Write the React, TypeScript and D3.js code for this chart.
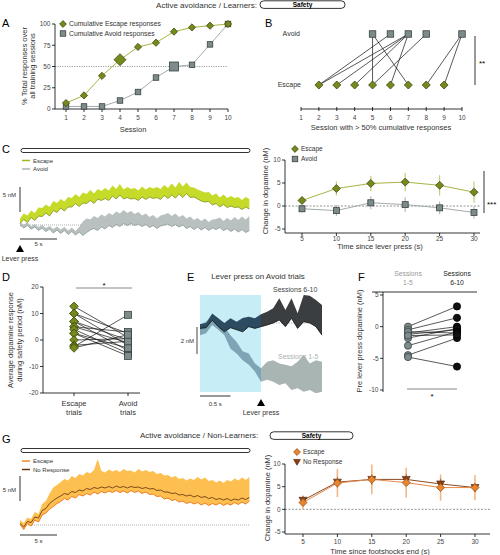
import React from 'react';
import * as d3 from 'd3';

const FONT = 'Liberation Sans, Arial, Helvetica, sans-serif';

// ---------- Panel A ----------
const sessions = [1, 2, 3, 4, 5, 6, 7, 8, 9, 10];
const cumEscape = [7, 16, 39, 58, 73, 78, 91, 96, 98, 100];
const cumAvoid = [3, 3, 3, 10, 20, 37, 50, 52, 76, 100];
const aYTicks = [0, 25, 50, 75, 100];
const escapeCrossSession = 4;
const avoidCrossSession = 7;

// ---------- Panel B ----------
const bEscapeSessions = [2, 3, 4, 5, 6, 7, 8, 9];
const bAvoidSessions = [5, 6, 7, 8, 10];
const bPairs = [[2, 6], [2, 7], [3, 7], [4, 7], [5, 5], [5, 8], [6, 7], [7, 5], [8, 10], [9, 10]];

// ---------- Panel C traces (0.5 s samples, nM) ----------
const cEscMeanTr = [0.3,1.1,0.5,1.5,0.9,1.8,1.7,2.4,1.8,2.9, 2.5,3.4,2.8,3.6,3.6,4.3,3.7,4.4,4.3,4.9, 4.3,5.2,4.9,5.3,4.9,5.8,5.2,6.0,5.2,5.5, 5.2,5.3,4.9,5.6,5.1,5.6,5.3,5.5,5.1,5.9, 5.3,6.0,5.4,6.2,5.5,6.3,5.5,5.6,5.2,4.8, 4.6,4.7,4.0,4.3,3.6,4.1,3.5,3.8,3.5,3.6, 3.1,3.6,3.2];
const cEscTopTr = [1.3,2.3,1.9,2.9,2.4,3.5,3.4,4.1,3.6,4.8, 4.4,5.2,4.7,5.6,5.4,6.2,5.6,6.5,6.2,7.0, 6.3,7.2,6.8,7.4,6.9,7.9,7.2,8.2,7.1,7.6, 7.2,7.4,6.9,7.7,7.1,7.6,7.3,7.6,7.2,8.0, 7.4,8.3,7.5,8.6,7.7,8.5,7.6,7.5,7.1,6.8, 6.5,6.6,5.9,6.3,5.5,6.1,5.4,5.8,5.4,5.6, 5.0,5.6,5.2];
const cAvMeanTr = [0.0,-0.6,-0.1,-0.8,-0.4,-1.1,-0.6,-1.3,-0.8,-1.6, -1.0,-1.7,-1.1,-1.9,-1.3,-2.0,-1.4,-2.1,-1.5,-1.0, -0.7,-1.1,-0.4,-0.8,-0.1,-0.5,0.1,-0.3,0.3,-0.1, 0.3,-0.1,0.2,-0.3,0.1,-0.5,-0.1,-0.7,-0.2,0.0, 0.2,-0.3,0.1,-0.4,0.0,-0.7,-0.3,-0.9,-0.4,-1.0, -0.5,-1.1,-0.6,-0.9,-0.5,-1.1,-0.7,-1.3,-0.8,-1.4, -0.9,-1.5,-1.1];
const cAvTopTr = [0.6,0.1,0.5,-0.2,0.2,-0.4,0.0,-0.6,-0.2,-0.8, -0.3,-0.9,-0.4,-1.1,-0.5,-1.2,-0.4,0.7,1.3,1.1, 1.8,1.4,2.1,1.7,2.4,2.0,2.7,2.3,3.0,2.4, 2.8,2.2,2.6,1.9,2.3,1.6,2.0,1.3,1.9,2.1, 2.4,1.8,2.3,1.6,2.0,1.3,1.7,1.0,1.4,0.8, 1.3,0.6,1.1,1.2,1.5,0.8,1.4,0.9,1.6,1.0, 1.7,1.1,1.8];

// ---------- Panel C right ----------
const cTimes = [5, 10, 15, 20, 25, 30];
const cEscMean = [1.2, 3.8, 4.9, 5.2, 4.5, 3.0];
const cEscErr = [0.5, 1.5, 1.7, 2.0, 2.2, 2.3];
const cAvMean = [-0.6, -1.0, 0.7, 0.3, -0.4, -1.4];
const cAvErr = [0.8, 1.2, 1.4, 1.6, 1.4, 1.3];
const cYTicks = [-5, 0, 5, 10];

// ---------- Panel D ----------
const dCategories = ['Escape', 'Avoid'];
const dPairs = [[12.7, 1], [10, 2.5], [10, -2], [7, 0], [7, -4], [5, 3], [5, -1], [4, -5], [2.5, -3], [2.5, -6], [0, 0.5], [-2, -0.5], [-2.5, 9.5], [-3, 2]];
const dYTicks = [-20, -10, 0, 10, 20];

// ---------- Panel E ----------
const eT = [-1,-0.9,-0.8,-0.7,-0.6,-0.5,-0.4,-0.3,-0.2,-0.1,0,0.1,0.2,0.3,0.4,0.5,0.6,0.7,0.8,0.9,1];
const e610Lo = [-0.4,-0.35,0.2,-0.27,-0.65,-0.35,-0.5,-0.65,-0.27,-0.4,-0.27,-0.15,0,0.22,-0.27,0.35,-0.4,0.1,0,-0.27,-0.9];
const e610Hi = [-0.1,0,0.7,0.35,0,0.35,0.1,0.37,0.47,0.35,0.64,0.84,1.09,1.83,0.96,1.83,0.72,2.07,2.02,1.7,1.33];
const e15Lo = [-0.9,-0.76,-0.15,-0.5,-0.9,-1.9,-2.25,-2.75,-3.1,-3.6,-4.35,-4.2,-4.35,-4.6,-4.47,-4.96,-4.84,-5.1,-4.96,-5.2,-5.1];
const e15Hi = [-0.1,0.1,0.47,0.1,-0.27,-0.9,-1.4,-2.1,-2.25,-3.0,-3.35,-2.87,-2.75,-3.0,-3.1,-3.2,-2.87,-2.37,-3.0,-2.75,-2.87];

// ---------- Panel F ----------
const fCategories = ['1-5', '6-10'];
const fPairs = [[0, 3.2], [-0.5, 1.4], [-1, 0], [-1.2, -0.5], [-1.8, -0.3], [-3, -0.8], [-4.5, -1.8], [-4.8, -6.3], [-0.8, -1.0], [-1.4, -1.3]];
const fYTicks = [-10, -5, 0, 5];

// ---------- Panel G traces ----------
const gTopTr = [1.0,0.4,1.5,1.2,2.6,2.2,4.2,4.8,6.3,7.5, 8.0,8.6,9.2,8.9,9.8,9.4,10.2,9.9,10.6,10.3, 11.0,13.2,10.8,10.5,11.1,10.7,11.0,10.6,11.2,10.8, 10.9,10.5,11.2,10.7,11.0,10.6,10.8,10.2,10.4,9.9, 10.0,9.5,9.8,9.2,9.4,8.9,9.3,9.0,9.6,9.1, 9.5,8.8,9.0,8.5,8.9,8.4,9.0,8.7,9.3,8.9, 9.5,9.0,9.6];
const gNrTr = [0.3,-0.4,0.7,0.5,1.6,1.4,2.9,3.3,4.3,4.9, 5.4,5.8,6.3,6.1,6.7,6.5,7.0,6.8,7.3,7.1, 7.5,7.3,7.6,7.4,7.7,7.4,7.8,7.5,7.7,7.4, 7.7,7.5,7.6,7.3,7.5,7.2,7.3,6.9,7.0,6.6, 6.6,6.3,6.4,6.0,6.1,5.8,6.0,5.6,5.9,5.5, 5.7,5.3,5.5,5.1,5.3,5.0,5.3,4.9,5.2,5.0, 5.4,5.1,5.5];
const gEscTr = [0.2,-0.9,0.3,-0.2,1.0,0.6,2.0,2.4,3.2,3.7, 4.3,4.7,5.3,5.0,5.7,5.4,6.1,5.8,6.3,6.0, 6.6,6.2,6.7,6.4,6.8,6.5,6.9,6.5,6.8,6.4, 6.9,6.5,6.8,6.3,6.6,6.1,6.2,5.7,5.8,5.2, 5.4,4.9,5.1,4.6,4.8,4.3,4.6,4.2,4.5,4.0, 4.4,3.9,4.3,4.0,4.4,3.9,4.3,4.0,4.5,4.1, 4.6,4.2,4.8];

// ---------- Panel G right ----------
const gTimes = [5, 10, 15, 20, 25, 30];
const gEscMean = [1.5, 5.8, 6.6, 5.9, 4.8, 4.8];
const gEscErr = [1.5, 3.1, 3.3, 3.3, 2.9, 2.8];
const gNrMean = [2.0, 6.0, 6.6, 6.6, 5.6, 4.8];
const gNrErr = [1.0, 1.2, 1.2, 1.2, 1.2, 1.0];

const OLIVE = '#748a1c';
const OLIVE_S = '#3e4a0e';
const OLIVE_L = '#aab440';
const GRAY = '#7d8b8b';
const GRAY_S = '#3a4242';
const GRAY_L = '#a3abab';
const TXT = '#333';

const diamond = (r: number) => `M0,${-r}L${r},0L0,${r}L${-r},0Z`;
const triDown = (r: number) => `M${-r},${-r * 0.75}L${r},${-r * 0.75}L0,${r * 0.95}Z`;

const Diamond = ({ x, y, r, fill = OLIVE, stroke = OLIVE_S }: any) => (
  <path d={diamond(r)} transform={`translate(${x},${y})`} fill={fill} stroke={stroke} strokeWidth={0.8} />
);
const Square = ({ x, y, s, fill = GRAY, stroke = GRAY_S }: any) => (
  <rect x={x - s / 2} y={y - s / 2} width={s} height={s} fill={fill} stroke={stroke} strokeWidth={0.8} />
);

const YAxis = ({ x, y0, y1, ticks, scale, fs = 6.5 }: any) => (
  <g>
    <line x1={x} x2={x} y1={y0} y2={y1} stroke="#000" strokeWidth={0.8} />
    {ticks.map((t: number) => (
      <g key={t}>
        <line x1={x - 3} x2={x} y1={scale(t)} y2={scale(t)} stroke="#000" strokeWidth={0.8} />
        <text x={x - 4.5} y={scale(t)} dy="0.35em" textAnchor="end" fontSize={fs} fill="#444">{t}</text>
      </g>
    ))}
  </g>
);

const XAxis = ({ y, x0, x1, ticks, scale, fs = 6.5, labelDy = 9 }: any) => (
  <g>
    <line x1={x0} x2={x1} y1={y} y2={y} stroke="#000" strokeWidth={0.8} />
    {ticks.map((t: number) => (
      <g key={t}>
        <line x1={scale(t)} x2={scale(t)} y1={y} y2={y + 3} stroke="#000" strokeWidth={0.8} />
        <text x={scale(t)} y={y + labelDy} dy="0.35em" textAnchor="middle" fontSize={fs} fill="#444">{t}</text>
      </g>
    ))}
  </g>
);

const RotLabel = ({ x, y, children, fs = 7.5 }: any) => (
  <text transform={`translate(${x},${y}) rotate(-90)`} textAnchor="middle" fontSize={fs} fill={TXT}>{children}</text>
);

export default function App() {
  // ---------- A ----------
  const xA = d3.scaleLinear().domain([1, 10]).range([66, 228]);
  const yA = d3.scaleLinear().domain([0, 100]).range([109, 24]);
  const lineA = d3.line<number>().x((_, i) => xA(sessions[i])).y(d => yA(d));

  // ---------- B ----------
  const xB = d3.scaleLinear().domain([1, 10]).range([301, 462]);
  const yBAvoid = 34, yBEscape = 85;

  // ---------- C traces ----------
  const trT = cEscMeanTr.map((_, i) => i * 0.5);
  const xTr = d3.scaleLinear().domain([0, 31]).range([20, 249.4]);
  const yCTr = d3.scaleLinear().domain([0, 1]).range([225, 220]);
  const areaC = (lo: number[], hi: number[]) =>
    d3.area<number>().x((_, i) => xTr(trT[i])).y0((_, i) => yCTr(lo[i])).y1((_, i) => yCTr(hi[i]))(lo) || '';
  const lineC = (v: number[]) => d3.line<number>().x((_, i) => xTr(trT[i])).y(d => yCTr(d))(v) || '';

  // ---------- C right ----------
  const xC = d3.scaleLinear().domain([5, 30]).range([302, 474]);
  const yC = d3.scaleLinear().domain([-5, 10]).range([229, 160]);
  const lineCR = (v: number[]) => d3.line<number>().x((_, i) => xC(cTimes[i])).y(d => yC(d))(v) || '';

  // ---------- D ----------
  const xD = d3.scalePoint<string>().domain(dCategories).range([74, 128]);
  const yD = d3.scaleLinear().domain([-20, 20]).range([393, 287]);

  // ---------- E ----------
  const xE = d3.scaleLinear().domain([-1, 1]).range([200, 322]);
  const yE = d3.scaleLinear().domain([0, 1]).range([323, 309.5]);
  const areaE = (lo: number[], hi: number[]) =>
    d3.area<number>().x((_, i) => xE(eT[i])).y0((_, i) => yE(lo[i])).y1((_, i) => yE(hi[i]))(lo) || '';
  const lineE = (v: number[]) => d3.line<number>().x((_, i) => xE(eT[i])).y(d => yE(d))(v) || '';

  // ---------- F ----------
  const xF = d3.scalePoint<string>().domain(fCategories).range([408, 457]);
  const yF = d3.scaleLinear().domain([-10, 5]).range([390, 295]);

  // ---------- G traces ----------
  const yGTr = d3.scaleLinear().domain([0, 1]).range([525, 520]);
  const areaG = (lo: number[], hi: number[]) =>
    d3.area<number>().x((_, i) => xTr(trT[i])).y0((_, i) => yGTr(lo[i])).y1((_, i) => yGTr(hi[i]))(lo) || '';
  const lineG = (v: number[]) => d3.line<number>().x((_, i) => xTr(trT[i])).y(d => yGTr(d))(v) || '';

  // ---------- G right ----------
  const xG = d3.scaleLinear().domain([5, 30]).range([303, 475]);
  const yG = d3.scaleLinear().domain([-5, 10]).range([532, 464]);
  const lineGR = (v: number[]) => d3.line<number>().x((_, i) => xG(gTimes[i])).y(d => yG(d))(v) || '';

  const letter = (t: string, x: number, y: number) => (
    <text x={x} y={y} fontSize={11} fill="#000">{t}</text>
  );

  return (
    <svg width={500} height={555} style={{ position: 'absolute', left: 0, top: 0, background: '#fff' }} fontFamily={FONT}>
      <rect x={0} y={0} width={500} height={555} fill="#fff" />
      <defs>
        <clipPath id="eIn"><rect x={0} y={0} width={xE(0)} height={555} /></clipPath>
        <clipPath id="eOut"><rect x={xE(0)} y={0} width={200} height={555} /></clipPath>
      </defs>

      {/* Header top */}
      <text x={257} y={8} textAnchor="end" fontSize={8} fill={TXT}>Active avoidance / Learners:</text>
      <rect x={260} y={0.8} width={85} height={7.6} rx={3.8} fill="#fff" stroke="#000" strokeWidth={0.8} />
      <text x={302.5} y={7.3} textAnchor="middle" fontSize={6.5} fontWeight="bold">Safety</text>

      {/* ---------- Panel A ---------- */}
      {letter('A', 2, 27)}
      <line x1={55} x2={228} y1={yA(50)} y2={yA(50)} stroke="#777" strokeWidth={0.7} strokeDasharray="1.2,1.2" />
      <YAxis x={55} y0={24} y1={109} ticks={aYTicks} scale={yA} />
      <XAxis y={109} x0={55} x1={228} ticks={sessions} scale={xA} />
      <text x={133} y={132} textAnchor="middle" fontSize={7.5} fill={TXT}>Session</text>
      <RotLabel x={27} y={66}>% Total responses over</RotLabel>
      <RotLabel x={35} y={66}>all training sessions</RotLabel>
      <path d={lineA(cumAvoid) || ''} fill="none" stroke={GRAY_L} strokeWidth={1} />
      <path d={lineA(cumEscape) || ''} fill="none" stroke={OLIVE_L} strokeWidth={1} />
      {cumAvoid.map((v, i) => (
        <Square key={'a' + i} x={xA(sessions[i])} y={yA(v)} s={sessions[i] === avoidCrossSession ? 9 : 5.5} />
      ))}
      {cumEscape.map((v, i) => (
        <Diamond key={'e' + i} x={xA(sessions[i])} y={yA(v)} r={sessions[i] === escapeCrossSession ? 6 : 3.6} />
      ))}
      <Diamond x={63} y={24} r={3.4} />
      <text x={69} y={24} dy="0.35em" fontSize={6.8} fill={TXT}>Cumulative Escape responses</text>
      <Square x={63} y={33.5} s={5.5} />
      <text x={69} y={33.5} dy="0.35em" fontSize={6.8} fill={TXT}>Cumulative Avoid responses</text>

      {/* ---------- Panel B ---------- */}
      {letter('B', 265, 27)}
      <text x={300} y={34} dy="0.35em" textAnchor="end" fontSize={7} fill={TXT}>Avoid</text>
      <text x={301} y={85} dy="0.35em" textAnchor="end" fontSize={7} fill={TXT}>Escape</text>
      {bPairs.map(([e, a], i) => (
        <line key={i} x1={xB(e)} y1={yBEscape} x2={xB(a)} y2={yBAvoid} stroke="#111" strokeWidth={0.7} />
      ))}
      {bAvoidSessions.map(s => <Square key={s} x={xB(s)} y={yBAvoid} s={6.5} />)}
      {bEscapeSessions.map(s => <Diamond key={s} x={xB(s)} y={yBEscape} r={4} />)}
      <line x1={301} x2={462} y1={109} y2={109} stroke="#000" strokeWidth={0.8} />
      {sessions.map(s => (
        <g key={s}>
          <line x1={xB(s)} x2={xB(s)} y1={107} y2={111} stroke="#000" strokeWidth={0.8} />
          <text x={xB(s)} y={118} dy="0.35em" textAnchor="middle" fontSize={6.5} fill="#444">{s}</text>
        </g>
      ))}
      <text x={381} y={130} textAnchor="middle" fontSize={7.5} fill={TXT}>Session with &gt; 50% cumulative responses</text>
      <line x1={475} x2={475} y1={36} y2={85} stroke="#000" strokeWidth={0.8} />
      <text x={479} y={66} fontSize={8} fill="#000">**</text>

      {/* ---------- Panel C left ---------- */}
      {letter('C', 2, 153)}
      <rect x={21} y={148.5} width={229} height={4} rx={2} fill="#fff" stroke="#000" strokeWidth={0.8} />
      <line x1={22} x2={30} y1={160.5} y2={160.5} stroke="#a4b51e" strokeWidth={1.5} />
      <text x={33} y={160.5} dy="0.35em" fontSize={6} fill={TXT}>Escape</text>
      <line x1={22} x2={30} y1={169} y2={169} stroke="#a8b2b2" strokeWidth={1.5} />
      <text x={33} y={169} dy="0.35em" fontSize={6} fill={TXT}>Avoid</text>
      <line x1={20} x2={20} y1={yCTr(7.6)} y2={yCTr(2.6)} stroke="#333" strokeWidth={1} />
      <text x={16} y={195} dy="0.35em" textAnchor="end" fontSize={6} fill={TXT}>5 nM</text>
      <line x1={20} x2={250} y1={yCTr(0)} y2={yCTr(0)} stroke="#777" strokeWidth={0.6} strokeDasharray="1,1" />
      <path d={areaC(cAvMeanTr, cAvTopTr)} fill="#b8c1c0" />
      <path d={lineC(cAvMeanTr)} fill="none" stroke="#8c9696" strokeWidth={0.8} />
      <path d={areaC(cEscMeanTr, cEscTopTr)} fill="#c6da2a" />
      <path d={lineC(cEscMeanTr)} fill="none" stroke="#808f1c" strokeWidth={0.8} />
      <line x1={xTr(0)} x2={xTr(5)} y1={239} y2={239} stroke="#333" strokeWidth={1} />
      <text x={xTr(2.5)} y={246} textAnchor="middle" fontSize={6} fill={TXT}>5 s</text>
      <path d={`M${xTr(0)},245L${xTr(0) + 4},252L${xTr(0) - 4},252Z`} fill="#000" />
      <text x={20} y={261} textAnchor="middle" fontSize={7} fill={TXT}>Lever press</text>

      {/* ---------- Panel C right ---------- */}
      <line x1={285} x2={480} y1={yC(0)} y2={yC(0)} stroke="#666" strokeWidth={0.7} strokeDasharray="2,1.5" />
      <YAxis x={285} y0={160} y1={233} ticks={cYTicks} scale={yC} />
      <XAxis y={233} x0={285} x1={480} ticks={cTimes} scale={xC} labelDy={6} />
      <text x={380} y={249} textAnchor="middle" fontSize={7.5} fill={TXT}>Time since lever press (s)</text>
      <RotLabel x={268} y={191}>Change in dopamine (nM)</RotLabel>
      {cAvMean.map((v, i) => (
        <line key={'ae' + i} x1={xC(cTimes[i])} x2={xC(cTimes[i])} y1={yC(v - cAvErr[i])} y2={yC(v + cAvErr[i])} stroke="#b4bcbc" strokeWidth={1.2} />
      ))}
      {cEscMean.map((v, i) => (
        <line key={'ee' + i} x1={xC(cTimes[i])} x2={xC(cTimes[i])} y1={yC(v - cEscErr[i])} y2={yC(v + cEscErr[i])} stroke="#c5ca7c" strokeWidth={1.2} />
      ))}
      <path d={lineCR(cAvMean)} fill="none" stroke={GRAY_L} strokeWidth={1} />
      <path d={lineCR(cEscMean)} fill="none" stroke={OLIVE_L} strokeWidth={1} />
      {cAvMean.map((v, i) => <Square key={'as' + i} x={xC(cTimes[i])} y={yC(v)} s={6} />)}
      {cEscMean.map((v, i) => <Diamond key={'ed' + i} x={xC(cTimes[i])} y={yC(v)} r={4} />)}
      <Diamond x={295} y={149} r={3.4} />
      <text x={301} y={149} dy="0.35em" fontSize={6.5} fill={TXT}>Escape</text>
      <Square x={295} y={159} s={5.5} />
      <text x={301} y={159} dy="0.35em" fontSize={6.5} fill={TXT}>Avoid</text>
      <line x1={484} x2={484} y1={171} y2={213} stroke="#000" strokeWidth={0.8} />
      <text x={487} y={207} fontSize={8} fill="#000">***</text>

      {/* ---------- Panel D ---------- */}
      {letter('D', 2, 281)}
      <YAxis x={43} y0={287} y1={393} ticks={dYTicks} scale={yD} />
      <line x1={43} x2={140} y1={393} y2={393} stroke="#000" strokeWidth={0.8} />
      {dCategories.map(c => (
        <line key={c} x1={xD(c)!} x2={xD(c)!} y1={393} y2={396} stroke="#000" strokeWidth={0.8} />
      ))}
      <text x={xD('Escape')!} y={406} textAnchor="middle" fontSize={7.5} fill={TXT}>Escape</text>
      <text x={xD('Escape')!} y={415} textAnchor="middle" fontSize={7.5} fill={TXT}>trials</text>
      <text x={xD('Avoid')!} y={406} textAnchor="middle" fontSize={7.5} fill={TXT}>Avoid</text>
      <text x={xD('Avoid')!} y={415} textAnchor="middle" fontSize={7.5} fill={TXT}>trials</text>
      <RotLabel x={13} y={340}>Average dopamine response</RotLabel>
      <RotLabel x={22} y={340}>during safety period (nM)</RotLabel>
      <line x1={76} x2={132} y1={288} y2={288} stroke="#888" strokeWidth={1} />
      <text x={104} y={288} textAnchor="middle" fontSize={8} fill="#000">*</text>
      {dPairs.map(([e, a], i) => (
        <line key={i} x1={xD('Escape')!} y1={yD(e)} x2={xD('Avoid')!} y2={yD(a)} stroke="#111" strokeWidth={0.7} />
      ))}
      {dPairs.map(([e, a], i) => (
        <g key={'m' + i}>
          <Square x={xD('Avoid')!} y={yD(a)} s={7} />
          <Diamond x={xD('Escape')!} y={yD(e)} r={4.3} />
        </g>
      ))}

      {/* ---------- Panel E ---------- */}
      {letter('E', 187, 281)}
      <text x={258} y={279} textAnchor="middle" fontSize={8} fill={TXT}>Lever press on Avoid trials</text>
      <rect x={xE(-1)} y={295} width={xE(0) - xE(-1)} height={97} fill="#c7edf7" />
      <line x1={xE(0)} x2={322} y1={yE(0)} y2={yE(0)} stroke="#888" strokeWidth={0.6} strokeDasharray="1.5,1" />
      <g clipPath="url(#eIn)">
        <path d={areaE(e15Lo, e15Hi)} fill="#7ea5b6" />
        <path d={areaE(e610Lo, e610Hi)} fill="#2c4a60" />
      </g>
      <g clipPath="url(#eOut)">
        <path d={areaE(e15Lo, e15Hi)} fill="#a9b5b2" />
        <path d={areaE(e610Lo, e610Hi)} fill="#3b3e40" />
      </g>
      <path d={lineE(e610Lo)} fill="none" stroke="#111" strokeWidth={0.8} />
      <text x={273} y={292} fontSize={7} fill="#444">Sessions 6-10</text>
      <text x={278} y={359} fontSize={7} fill="#aab4b4">Sessions 1-5</text>
      <line x1={197} x2={197} y1={327} y2={327 + (yE(0) - yE(2))} stroke="#444" strokeWidth={1} />
      <text x={194} y={341} dy="0.35em" textAnchor="end" fontSize={6} fill={TXT}>2 nM</text>
      <line x1={xE(-1)} x2={xE(-0.5)} y1={396} y2={396} stroke="#333" strokeWidth={1} />
      <text x={(xE(-1) + xE(-0.5)) / 2} y={406} textAnchor="middle" fontSize={6} fill={TXT}>0.5 s</text>
      <path d={`M${xE(0)},399L${xE(0) + 4},406L${xE(0) - 4},406Z`} fill="#000" />
      <text x={xE(0)} y={415} textAnchor="middle" fontSize={7} fill={TXT}>Lever press</text>

      {/* ---------- Panel F ---------- */}
      {letter('F', 358, 281)}
      <text x={xF('1-5')!} y={276} textAnchor="middle" fontSize={6.8} fill="#999">Sessions</text>
      <text x={xF('1-5')!} y={285} textAnchor="middle" fontSize={6.8} fill="#999">1-5</text>
      <text x={xF('6-10')!} y={276} textAnchor="middle" fontSize={6.8} fill="#222">Sessions</text>
      <text x={xF('6-10')!} y={285} textAnchor="middle" fontSize={6.8} fill="#222">6-10</text>
      <line x1={372} x2={477} y1={292} y2={292} stroke="#000" strokeWidth={0.8} />
      <YAxis x={383} y0={292} y1={392} ticks={fYTicks} scale={yF} />
      <RotLabel x={362} y={341}>Pre lever press dopamine (nM)</RotLabel>
      {fPairs.map(([a, b], i) => (
        <line key={i} x1={xF('1-5')!} y1={yF(a)} x2={xF('6-10')!} y2={yF(b)} stroke="#111" strokeWidth={0.7} />
      ))}
      {fPairs.map(([a, b], i) => (
        <g key={'c' + i}>
          <circle cx={xF('1-5')!} cy={yF(a)} r={3.6} fill={GRAY} stroke={GRAY_S} strokeWidth={0.8} />
          <circle cx={xF('6-10')!} cy={yF(b)} r={3.6} fill="#111" stroke="#000" strokeWidth={0.8} />
        </g>
      ))}
      <line x1={407} x2={457} y1={389} y2={389} stroke="#888" strokeWidth={1.2} />
      <text x={432} y={399} textAnchor="middle" fontSize={8} fill="#000">*</text>

      {/* ---------- Panel G left ---------- */}
      <text x={140} y={438} fontSize={8} fill={TXT}>Active avoidance / Non-Learners:</text>
      <rect x={270} y={431.8} width={83} height={7.6} rx={3.8} fill="#fff" stroke="#000" strokeWidth={0.8} />
      <text x={311.5} y={438.3} textAnchor="middle" fontSize={6.5} fontWeight="bold">Safety</text>
      {letter('G', 2, 443)}
      <rect x={21} y={448.5} width={229} height={4} rx={2} fill="#fff" stroke="#000" strokeWidth={0.8} />
      <line x1={22} x2={30} y1={461} y2={461} stroke="#f28a2a" strokeWidth={1.5} />
      <text x={33} y={461} dy="0.35em" fontSize={6} fill={TXT}>Escape</text>
      <line x1={22} x2={30} y1={469.5} y2={469.5} stroke="#6b3410" strokeWidth={1.5} />
      <text x={33} y={469.5} dy="0.35em" fontSize={6} fill={TXT}>No Response</text>
      <line x1={20} x2={20} y1={476} y2={476 + (yGTr(0) - yGTr(5))} stroke="#333" strokeWidth={1} />
      <text x={16} y={490} dy="0.35em" textAnchor="end" fontSize={6} fill={TXT}>5 nM</text>
      <line x1={20} x2={250} y1={yGTr(0)} y2={yGTr(0)} stroke="#777" strokeWidth={0.6} strokeDasharray="1,1" />
      <path d={areaG(gEscTr, gTopTr)} fill="#fdbf4f" />
      <path d={lineG(gNrTr)} fill="none" stroke="#5e2c0b" strokeWidth={0.8} />
      <path d={lineG(gEscTr)} fill="none" stroke="#f07a1c" strokeWidth={1} />
      <line x1={xTr(0)} x2={xTr(5)} y1={535} y2={535} stroke="#333" strokeWidth={1} />
      <text x={xTr(2.5)} y={543} textAnchor="middle" fontSize={6} fill={TXT}>5 s</text>

      {/* ---------- Panel G right ---------- */}
      <line x1={285} x2={491} y1={yG(0)} y2={yG(0)} stroke="#666" strokeWidth={0.7} strokeDasharray="2,1.5" />
      <YAxis x={285} y0={464} y1={534} ticks={cYTicks} scale={yG} />
      <XAxis y={534} x0={285} x1={490} ticks={gTimes} scale={xG} labelDy={8} />
      <text x={380} y={554} textAnchor="middle" fontSize={7.5} fill={TXT}>Time since footshocks end (s)</text>
      <RotLabel x={270} y={498}>Change in dopamine (nM)</RotLabel>
      {gEscMean.map((v, i) => (
        <line key={'ge' + i} x1={xG(gTimes[i])} x2={xG(gTimes[i])} y1={yG(v - gEscErr[i])} y2={yG(v + gEscErr[i])} stroke="#f3b785" strokeWidth={1.6} />
      ))}
      {gNrMean.map((v, i) => (
        <line key={'gn' + i} x1={xG(gTimes[i])} x2={xG(gTimes[i])} y1={yG(v - gNrErr[i])} y2={yG(v + gNrErr[i])} stroke="#b87040" strokeWidth={1} />
      ))}
      <path d={lineGR(gNrMean)} fill="none" stroke="#8a4a22" strokeWidth={1} />
      <path d={lineGR(gEscMean)} fill="none" stroke="#e8894a" strokeWidth={1} />
      {gNrMean.map((v, i) => (
        <path key={'gt' + i} d={triDown(4)} transform={`translate(${xG(gTimes[i])},${yG(v)})`} fill="#8b3e12" stroke="#4a2006" strokeWidth={0.6} />
      ))}
      {gEscMean.map((v, i) => (
        <Diamond key={'gd' + i} x={xG(gTimes[i])} y={yG(v)} r={4} fill="#e8862f" stroke="#9a4c14" />
      ))}
      <Diamond x={297} y={452} r={3.4} fill="#e8862f" stroke="#9a4c14" />
      <text x={303} y={452} dy="0.35em" fontSize={6.5} fill={TXT}>Escape</text>
      <path d={triDown(3.4)} transform="translate(297,462)" fill="#8b3e12" stroke="#4a2006" strokeWidth={0.6} />
      <text x={303} y={462} dy="0.35em" fontSize={6.5} fill={TXT}>No Response</text>
    </svg>
  );
}
